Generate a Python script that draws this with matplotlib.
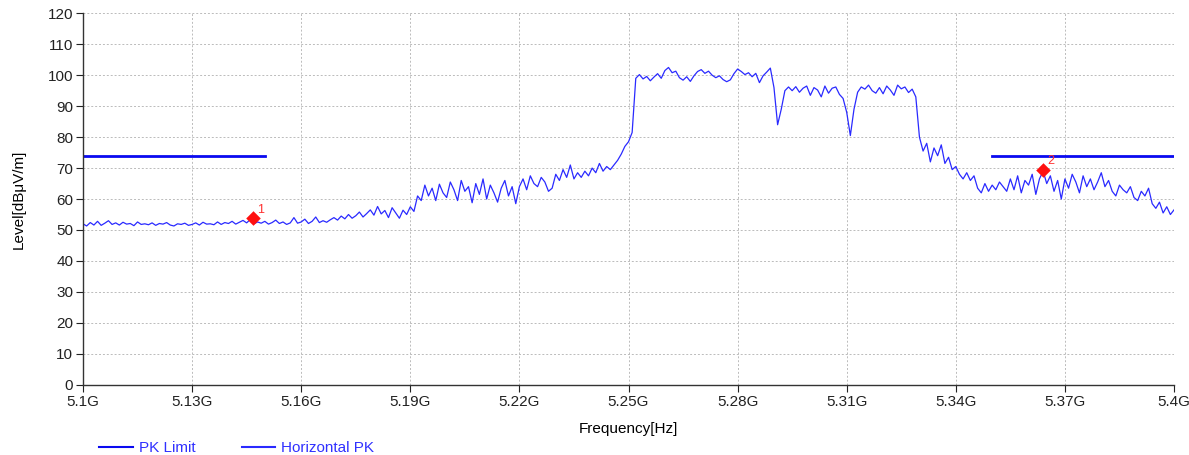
"""EMI scan: radiated emission level vs frequency with PK limit."""

import numpy as np
import matplotlib
matplotlib.use("Agg")
import matplotlib.pyplot as plt
from matplotlib.lines import Line2D

plt.rcParams["font.family"] = ["Liberation Sans", "DejaVu Sans"]

# sweep start / step (Hz), one reading per MHz
START_HZ = 5.1e9
STEP_HZ = 1e6

# Horizontal PK trace, dBuV/m, 5.100 .. 5.400 GHz
level = [
    52.0, 51.3, 52.4, 51.6, 52.8, 51.5, 52.2, 53.0, 51.8, 52.3,
    51.6, 52.5, 51.9, 52.1, 51.4, 52.6, 51.8, 52.0, 51.7, 52.3,
    51.5, 52.1, 51.9, 52.4, 51.6, 51.3, 52.0, 51.8, 52.2, 51.5,
    51.8, 52.3, 51.6, 52.5, 51.9, 52.0, 51.7, 52.6, 51.8, 52.4,
    52.1, 52.8, 51.9, 52.5, 53.1, 52.3, 53.4, 52.0, 52.6, 52.2,
    52.8, 51.9, 52.4, 53.2, 52.1, 52.6, 51.8, 52.3, 54.0, 52.2,
    52.6, 53.5, 52.1, 52.8, 54.2, 52.4, 53.0, 52.5, 53.3, 54.0,
    53.2, 54.5, 53.6, 55.0, 53.8, 54.6, 55.8, 54.2, 55.3, 56.5,
    54.8, 57.6, 55.2, 56.3, 54.0, 57.2, 55.5, 53.8, 56.4, 55.0,
    57.5, 56.0, 61.0, 59.5, 64.5, 61.0, 63.5, 59.5, 64.8, 62.0,
    60.5, 65.5, 63.0, 59.5, 66.0, 62.5, 64.0, 58.8, 65.0, 61.5,
    66.5, 60.0, 64.5, 62.0, 59.0, 63.5, 66.0, 61.0, 64.0, 58.5,
    64.0, 66.5, 63.0, 67.5, 65.0, 64.0, 67.0, 65.5, 62.5, 63.5,
    68.0, 66.0, 69.5, 67.0, 71.0, 66.5, 68.5, 67.0, 69.0, 67.5,
    70.0, 68.5, 71.5, 69.0, 70.5, 69.5, 71.0, 72.5, 74.5, 77.0,
    78.5, 81.5, 99.0, 100.2, 98.8, 99.6, 98.2, 99.4, 100.5, 99.0,
    101.5, 102.5, 100.8, 101.3, 99.2, 98.4, 99.5, 98.0, 99.8, 101.2,
    101.8, 100.6, 101.3, 100.0, 99.2, 99.8, 98.6, 97.9, 98.5, 100.5,
    102.0, 101.2, 100.2, 100.8, 99.5, 100.6, 97.6, 99.8, 101.0, 102.3,
    96.0, 84.0, 89.0, 95.0, 96.2, 95.0, 96.3, 94.5, 95.8, 96.5,
    93.5, 96.0, 95.2, 93.0, 96.5, 94.2, 95.8, 96.2, 93.8, 92.5,
    88.0, 80.5, 89.0, 94.5, 96.2, 95.5, 96.8, 95.0, 94.2, 96.0,
    94.0, 96.5, 95.2, 93.5, 96.8, 95.6, 96.2, 94.4, 95.5, 93.0,
    80.0, 75.5, 78.0, 72.0, 76.5, 74.0, 77.5, 71.5, 73.5, 69.5,
    70.5, 68.0, 66.5, 68.5, 66.0, 67.5, 63.5, 62.0, 65.0, 62.5,
    64.5, 63.0, 65.5, 64.0, 62.5, 66.5, 63.0, 67.5, 62.0, 66.0,
    64.5, 68.0, 61.5, 66.5, 69.0, 65.0, 67.5, 62.5, 66.0, 60.0,
    66.5, 63.5, 68.0, 65.5, 62.0, 67.5, 64.0, 66.5, 63.0, 65.5,
    68.5, 64.0, 66.0, 62.5, 61.0, 64.5, 63.0, 62.0, 64.0, 60.5,
    59.5, 62.5, 61.0, 63.5, 58.5, 57.0, 59.0, 55.5, 57.5, 55.0,
    56.5,
]

# PK limit segments (restricted band edges)
limit_lo_hz = [5.10e9, 5.15e9]
limit_hi_hz = [5.35e9, 5.40e9]
limit_db = 74.0

# markers
marker_hz = [5.1468e9, 5.3640e9]
marker_db = [53.8, 69.4]
marker_ids = ["1", "2"]

xtick_hz = [5.10e9, 5.13e9, 5.16e9, 5.19e9, 5.22e9, 5.25e9,
            5.28e9, 5.31e9, 5.34e9, 5.37e9, 5.40e9]
xtick_labels = ["5.1G", "5.13G", "5.16G", "5.19G", "5.22G", "5.25G",
                "5.28G", "5.31G", "5.34G", "5.37G", "5.4G"]

BLUE = "#2a2aff"
LIMIT_BLUE = "#0a0af0"
FS = 11


def main() -> None:
    freq = START_HZ + STEP_HZ * np.arange(len(level))

    fig = plt.figure(figsize=(11.89, 4.55), dpi=100)
    ax = fig.add_axes([0.0698, 0.1543, 0.9176, 0.8165])

    ax.plot(limit_lo_hz, [limit_db, limit_db], color=LIMIT_BLUE, lw=2.0)
    ax.plot(limit_hi_hz, [limit_db, limit_db], color=LIMIT_BLUE, lw=2.0)
    ax.plot(freq, level, color=BLUE, lw=0.9)

    ax.scatter(marker_hz, marker_db, marker="D", s=55, color="#ff1010",
               zorder=5, linewidths=0)
    for f, v, t in zip(marker_hz, marker_db, marker_ids):
        ax.annotate(t, (f, v), xytext=(3, 4), textcoords="offset points",
                    color="#ff3030", fontsize=9)

    ax.set_xlim(5.1e9, 5.4e9)
    ax.set_ylim(0, 120)
    ax.set_xticks(xtick_hz)
    ax.set_xticklabels(xtick_labels)
    ax.set_yticks(np.arange(0, 121, 10))
    ax.tick_params(direction="out", length=5, width=0.8, labelsize=FS,
                   colors="#222222", pad=2)

    ax.grid(True, color="#bbbbbb", linestyle=(0, (2, 2)), linewidth=0.7)
    for side in ("top", "right"):
        ax.spines[side].set_visible(False)
    for side in ("left", "bottom"):
        ax.spines[side].set_color("#333333")
        ax.spines[side].set_linewidth(1.0)

    ax.set_xlabel("Frequency[Hz]", fontsize=FS, labelpad=10)
    ax.set_ylabel("Level[dB\u03bcV/m]", fontsize=FS, labelpad=16)

    handles = [Line2D([], [], color=LIMIT_BLUE, lw=1.5),
               Line2D([], [], color=BLUE, lw=1.5)]
    leg = fig.legend(handles, ["PK Limit", "Horizontal PK"], ncol=2,
                     loc="lower left", bbox_to_anchor=(0.072, -0.03),
                     frameon=False, fontsize=FS, handlelength=2.2,
                     handletextpad=0.4, columnspacing=3.0)
    for txt in leg.get_texts():
        txt.set_color("#3030ff")

    fig.savefig("out.png", dpi=100)
    plt.close(fig)


if __name__ == "__main__":
    main()
